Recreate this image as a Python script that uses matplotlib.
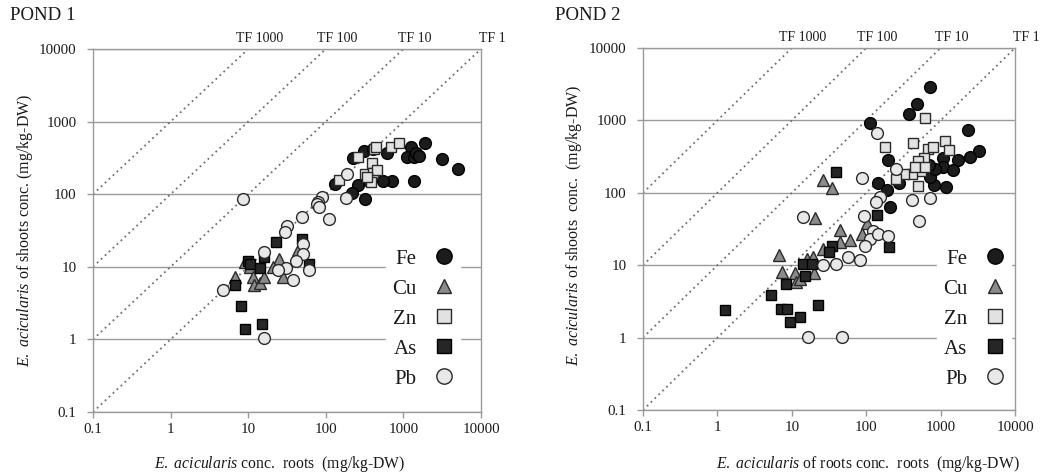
import matplotlib
matplotlib.use("Agg")
import matplotlib.pyplot as plt
import numpy as np

plt.rcParams['font.family'] = ['Liberation Serif', 'DejaVu Serif']
plt.rcParams['mathtext.fontset'] = 'custom'
plt.rcParams['mathtext.rm'] = 'Liberation Serif'
plt.rcParams['mathtext.it'] = 'Liberation Serif:italic'

# ---------------- data ----------------
elements = ["Fe", "Cu", "Zn", "As", "Pb"]
tf_values = [1000, 100, 10, 1]
tick_values = [0.1, 1, 10, 100, 1000, 10000]
tick_labels = ["0.1", "1", "10", "100", "1000", "10000"]

# Pond 1 (roots, shoots) mg/kg-DW
fe1_root = [1900, 1240, 1100, 1350, 1460, 1590, 3180, 5010, 1350, 708, 553, 622, 315, 400, 227, 263, 216, 321, 132, 360]
fe1_shoot = [515, 440, 330, 327, 365, 340, 304, 219, 154, 154, 154, 371, 396, 420, 317, 133, 105, 87, 140, 150]
cu1_root = [6.7, 9, 10.4, 11.5, 12, 14, 16.2, 24.8, 28.5, 43.6, 21]
cu1_shoot = [7.3, 11.7, 10, 7.3, 5.6, 5.9, 7.3, 13, 7.3, 17, 10]
zn1_root = [146, 263, 390, 321, 400, 460, 380, 420, 440, 700, 880, 340]
zn1_shoot = [156, 327, 265, 190, 195, 215, 148, 420, 450, 450, 510, 170]
as1_root = [6.8, 8, 9.2, 15, 10, 10.5, 14, 16, 23, 50, 60]
as1_shoot = [5.6, 2.9, 1.4, 1.65, 12, 11, 9.5, 13.5, 22, 24, 11]
pb1_root = [8.5, 181, 185, 89, 80, 77, 81, 111, 49, 31.5, 29.5, 16, 51.5, 51.5, 41.5, 61, 30.5, 24.5, 38, 4.7, 16]
pb1_shoot = [85, 90, 190, 92, 77, 73, 66, 46, 49, 37, 30, 16, 20.4, 15, 12, 8.9, 9.5, 8.9, 6.5, 4.8, 1.04]

# Pond 2
fe2_root = [719, 475, 375, 112, 2360, 3280, 2480, 1730, 1090, 1090, 1480, 1200, 822, 719, 198, 145, 188, 208, 280, 850, 700]
fe2_shoot = [2880, 1660, 1240, 910, 735, 372, 310, 280, 300, 226, 208, 120, 129, 164, 285, 137, 111, 63, 135, 210, 240]
cu2_root = [26.5, 35, 20.4, 44, 61.5, 44, 101, 87, 6.75, 7.4, 11.2, 11.5, 20, 19, 26.5, 13, 16]
cu2_shoot = [148, 117, 45, 31, 22, 21, 38.6, 27, 13.7, 8.1, 7.7, 5.9, 7.7, 13, 17, 6.5, 12]
zn2_root = [620, 178, 430, 680, 1140, 1310, 800, 600, 500, 545, 415, 325, 255, 490, 450, 620]
zn2_shoot = [1090, 427, 484, 405, 526, 396, 427, 304, 279, 203, 179, 179, 156, 126, 226, 226]
as2_root = [1.25, 39, 141, 35, 200, 14.2, 18.5, 15, 8.3, 5.3, 7.2, 8.5, 9.4, 13, 22.6, 32]
as2_shoot = [2.38, 193, 50, 18.3, 18, 10.5, 10.5, 7, 5.5, 3.85, 2.45, 2.5, 1.64, 1.9, 2.8, 15]
pb2_root = [138, 86.5, 14.2, 153, 134, 248, 419, 719, 517, 94, 124, 112, 145, 194, 95, 82, 57, 39, 26, 16.3, 47.5]
pb2_shoot = [673, 159, 47, 87, 74, 210, 80, 85, 40.7, 47.6, 30, 23, 27, 25.5, 18.7, 11.7, 12.8, 10.5, 10, 1.02, 1.02]

# ---------------- styles ----------------
styles = {
    "Fe": dict(marker="o", mfc="#1c1c1c", mec="#000000", ms=8.5),
    "Cu": dict(marker="^", mfc="#8a8a8a", mec="#2a2a2a", ms=8.3),
    "Zn": dict(marker="s", mfc="#e2e2e2", mec="#2a2a2a", ms=7.8),
    "As": dict(marker="s", mfc="#262626", mec="#000000", ms=7.8),
    "Pb": dict(marker="o", mfc="#e8e8e8", mec="#2a2a2a", ms=8.5),
}
text_color = "#1a1a1a"
grid_color = "#9a9a9a"

fig = plt.figure(figsize=(10.64, 4.75), dpi=100)
ax1 = fig.add_axes([93 / 1064, 1 - 412 / 475, 388 / 1064, 363 / 475])
ax2 = fig.add_axes([643 / 1064, 1 - 410 / 475, 372 / 1064, 362 / 475])

pond_data = [
    {"Fe": (fe1_root, fe1_shoot), "Cu": (cu1_root, cu1_shoot), "Zn": (zn1_root, zn1_shoot),
     "As": (as1_root, as1_shoot), "Pb": (pb1_root, pb1_shoot)},
    {"Fe": (fe2_root, fe2_shoot), "Cu": (cu2_root, cu2_shoot), "Zn": (zn2_root, zn2_shoot),
     "As": (as2_root, as2_shoot), "Pb": (pb2_root, pb2_shoot)},
]
titles = ["POND 1", "POND 2"]
xlabels = [r"$\mathit{E.\ acicularis}$ conc.  roots  (mg/kg-DW)",
           r"$\mathit{E.\ acicularis}$ of roots conc.  roots  (mg/kg-DW)"]
ylabels = [r"$\mathit{E.\ acicularis}$ of shoots conc. (mg/kg-DW)",
           r"$\mathit{E.\ acicularis}$ of shoots  conc.  (mg/kg-DW)"]
xlabel_pos = [(0.482, -0.116), (0.605, -0.122)]
ylabel_pos = [(-0.149, 0.5), (-0.159, 0.51)]
title_pos = [(10 / 1064, 1 - 15 / 475), (555 / 1064, 1 - 15 / 475)]
legend_anchor = [(0.755, 0.466), (0.79, 0.462)]

for i, ax in enumerate([ax1, ax2]):
    ax.set_xscale("log")
    ax.set_yscale("log")
    ax.set_xlim(0.1, 10000)
    ax.set_ylim(0.1, 10000)
    ax.set_xticks(tick_values)
    ax.set_xticklabels(tick_labels)
    ax.set_yticks(tick_values)
    ax.set_yticklabels(tick_labels)
    ax.minorticks_off()
    ax.tick_params(axis="both", which="major", labelsize=10.8, colors=grid_color,
                   labelcolor=text_color, length=4, width=1, direction="out", pad=4)
    ax.tick_params(axis="y", pad=8)
    for sp in ax.spines.values():
        sp.set_color(grid_color)
        sp.set_linewidth(1)
    ax.yaxis.grid(True, color=grid_color, lw=1)
    ax.xaxis.grid(False)
    ax.set_axisbelow(True)

    # transfer factor lines
    for tf in tf_values:
        xs = np.array([0.1, 10000 / tf])
        ax.plot(xs, xs * tf, linestyle=(0, (1, 2)), color="#707070", lw=1.3, zorder=1)
        ax.annotate("TF %d" % tf, xy=(10000 / tf, 10000), xytext=(8, 3),
                    textcoords="offset points", ha="center", va="bottom",
                    fontsize=10, color=text_color, annotation_clip=False)

    handles = []
    for el in elements:
        r, s = pond_data[i][el]
        h, = ax.plot(r, s, linestyle="none", mew=1.0, zorder=3, label=el, **styles[el])
        handles.append(h)

    leg = ax.legend(handles=handles, loc="upper left", bbox_to_anchor=legend_anchor[i],
                    markerfirst=False, frameon=True, fancybox=False, fontsize=15,
                    markerscale=1.3, labelspacing=0.5, handlelength=1.0,
                    handletextpad=0.8, borderpad=0.3, borderaxespad=0.0)
    leg.get_frame().set_facecolor("white")
    leg.get_frame().set_edgecolor("white")
    leg.get_frame().set_alpha(1.0)
    for t in leg.get_texts():
        t.set_color(text_color)

    ax.set_xlabel(xlabels[i], fontsize=11.3, color=text_color)
    ax.xaxis.set_label_coords(*xlabel_pos[i])
    ax.set_ylabel(ylabels[i], fontsize=11.5, color=text_color)
    ax.yaxis.set_label_coords(*ylabel_pos[i])

    fig.text(title_pos[i][0], title_pos[i][1], titles[i], fontsize=13.6, color=text_color,
             ha="left", va="center")

fig.savefig("out.png", dpi=100)
